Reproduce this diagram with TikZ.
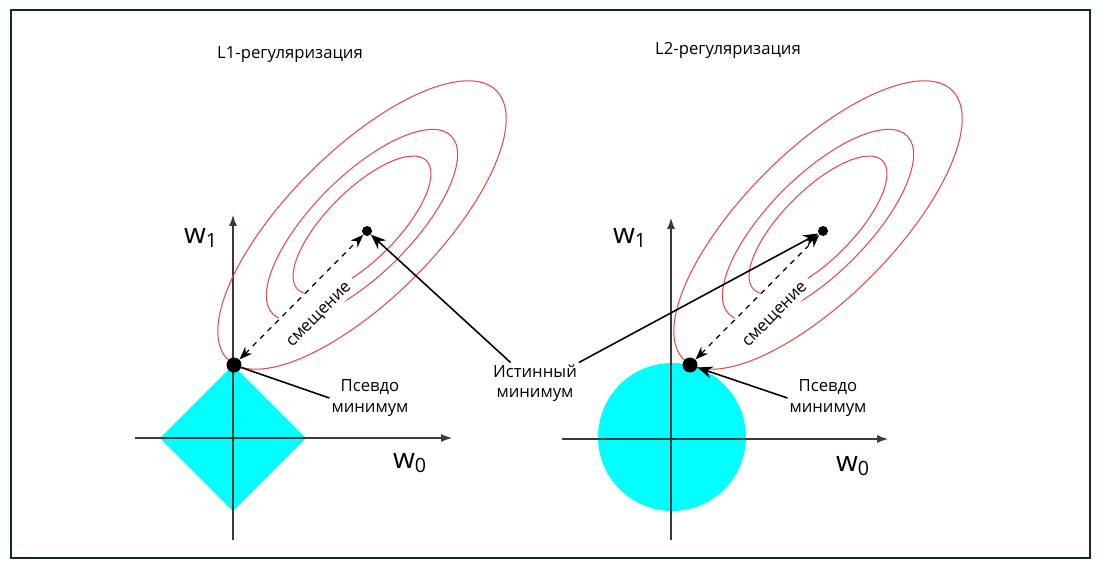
\documentclass[tikz,border=0pt]{standalone}
\usepackage{fontspec}
\setmainfont{Open Sans}
\usetikzlibrary{arrows.meta,positioning,calc}
\definecolor{edge}{HTML}{112B2B}
\definecolor{level}{HTML}{E5484D}
\definecolor{ball}{HTML}{00FFFF}
\definecolor{axis}{HTML}{3A3A3A}

\begin{document}
\begin{tikzpicture}[x=0.02cm,y=-0.02cm,font=\fontsize{9.5}{11.5}\selectfont,>={Stealth[length=3mm,width=2.4mm]},
  ax/.style={draw=axis,line width=0.6pt,-{Latex[length=2.2mm,width=1.6mm]}},
  lvl/.style={draw=level,line width=0.6pt},
  dot/.style={circle,fill=black,inner sep=0pt,minimum size=#1},
  lbl/.style={align=center,inner sep=1pt},
  wl/.style={font=\fontsize{16}{18}\selectfont,inner sep=0pt},
  ptr/.style={draw=black,line width=0.9pt,->},
  offs/.style={dashed,line width=0.7pt,{Stealth[length=2.6mm]}-{Stealth[length=2.6mm]}}]
  \useasboundingbox (0,0) rectangle (1101,571);
  \draw[edge,line width=1.1pt] (11,10) rectangle (1090,558);

  % constraint regions
  \fill[ball] (233,365) -- (306,438) -- (233,511) -- (160,438) -- cycle;
  \fill[ball] (672,437) circle (1.48cm);

  % axes
  \draw[ax] (233,540) -- (233,215);
  \draw[ax] (135,438) -- (452,438);
  \draw[ax] (671,540) -- (671,218);
  \draw[ax] (562,439) -- (888,439);
  \node[wl] (wa1) at (201,238) {w\textsubscript{1}};
  \node[wl] (wa0) at (410,463) {w\textsubscript{0}};
  \node[wl] (wb1) at (630,238) {w\textsubscript{1}};
  \node[wl] (wb0) at (853,466) {w\textsubscript{0}};

  \node (t1) at (290,55) {L1-регуляризация};
  \node (t2) at (728,50) {L2-регуляризация};

  \foreach \i/\dx in {1/0,2/456}{
    \begin{scope}[shift={(\dx,0)}]
      \foreach \a/\b in {190/74,126/49,91/35}
        \draw[lvl,rotate around={45:(362,225)}] (362,225) ellipse ({\a*0.02cm} and {\b*0.02cm});
      % white band under the label
      \fill[white,rotate around={45:(362,225)}] (212,232) rectangle (317,263);
      \node[dot=0.3cm] (pm\i) at (234,365) {};
      \node[dot=0.2cm] (tm\i) at (367,231) {};
      \draw[offs] (pm\i) -- node[sloped,pos=0.5,below=10pt,fill=white,inner sep=1pt] (sm\i) {смещение} (tm\i);
    \end{scope}
  }

  \node[lbl] (pl1) at (370,398) {Псевдо\\минимум};
  \node[lbl] (pl2) at (828,398) {Псевдо\\минимум};
  \node[lbl] (im) at (535,383) {Истинный\\минимум};
  \draw[line width=0.9pt] (pl1.west) -- (pm1);
  \draw[ptr] (pl2.west) -- (pm2);
  \draw[ptr] (im.140) -- (tm1);
  \draw[ptr] (im.north east) -- (tm2);
\end{tikzpicture}
\end{document}
